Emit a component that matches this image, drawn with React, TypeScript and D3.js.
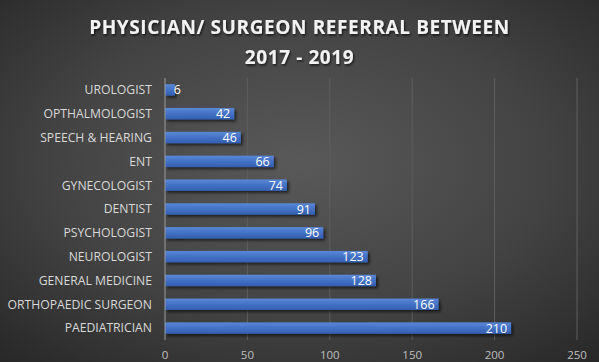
import * as d3 from "d3";
import React from "react";

const categories = [
  "UROLOGIST",
  "OPTHALMOLOGIST",
  "SPEECH & HEARING",
  "ENT",
  "GYNECOLOGIST",
  "DENTIST",
  "PSYCHOLOGIST",
  "NEUROLOGIST",
  "GENERAL MEDICINE",
  "ORTHOPAEDIC SURGEON",
  "PAEDIATRICIAN",
];
const referrals = [6, 42, 46, 66, 74, 91, 96, 123, 128, 166, 210];
const xTicks = [0, 50, 100, 150, 200, 250];
const titleLines = ["PHYSICIAN/ SURGEON REFERRAL BETWEEN", "2017 - 2019"];

export default function App() {
  const width = 599;
  const height = 362;
  const marginLeft = 165;
  const marginRight = 22;
  const marginTop = 78;
  const marginBottom = 22;

  const font = "Open Sans, sans-serif";

  const x = d3
    .scaleLinear()
    .domain([0, 250])
    .range([marginLeft, width - marginRight]);

  const y = d3
    .scaleBand()
    .domain(categories)
    .range([marginTop, height - marginBottom])
    .paddingInner(0.52)
    .paddingOuter(0.26);

  const data = categories.map((c, i) => ({ name: c, value: referrals[i] }));

  return (
    <svg
      width={width}
      height={height}
      style={{ position: "absolute", left: 0, top: 0, display: "block" }}
    >
      <defs>
        <radialGradient id="bg" cx="50%" cy="45%" r="75%">
          <stop offset="0%" stopColor="#595959" />
          <stop offset="55%" stopColor="#434343" />
          <stop offset="100%" stopColor="#272727" />
        </radialGradient>
        <linearGradient id="bar" x1="0" y1="0" x2="0" y2="1">
          <stop offset="0%" stopColor="#5a88d8" />
          <stop offset="45%" stopColor="#4573c6" />
          <stop offset="100%" stopColor="#335fb0" />
        </linearGradient>
        <filter id="shadow" x="-10%" y="-40%" width="130%" height="200%">
          <feDropShadow dx="2" dy="2" stdDeviation="1.5" floodColor="#000" floodOpacity="0.6" />
        </filter>
        <filter id="tshadow" x="-10%" y="-40%" width="120%" height="200%">
          <feDropShadow dx="1" dy="1.5" stdDeviation="1" floodColor="#000" floodOpacity="0.7" />
        </filter>
      </defs>

      <rect x={0} y={0} width={width} height={height} fill="url(#bg)" />

      {/* Title */}
      <g filter="url(#tshadow)">
        {titleLines.map((line, i) => (
          <text
            key={i}
            x={width / 2}
            y={34 + i * 30}
            textAnchor="middle"
            fill="#f2f2f2"
            fontFamily={font}
            fontWeight="bold"
            fontSize={19}
            letterSpacing={0.6}
          >
            {line}
          </text>
        ))}
      </g>

      {/* Gridlines */}
      {xTicks.slice(1).map((t) => (
        <line
          key={t}
          x1={x(t)}
          x2={x(t)}
          y1={marginTop}
          y2={height - marginBottom}
          stroke="#5e5e5e"
          strokeWidth={1}
        />
      ))}

      {/* Bars */}
      {data.map((d) => (
        <rect
          key={d.name}
          x={x(0)}
          y={y(d.name)}
          width={x(d.value) - x(0)}
          height={y.bandwidth()}
          fill="url(#bar)"
          filter="url(#shadow)"
        />
      ))}

      {/* Y axis line */}
      <line
        x1={x(0)}
        x2={x(0)}
        y1={marginTop}
        y2={height - marginBottom}
        stroke="#9a9a9a"
        strokeWidth={1}
      />

      {/* Value labels */}
      {data.map((d) => (
        <text
          key={d.name}
          x={Math.max(x(d.value) - 4, x(0) + 16)}
          y={(y(d.name) ?? 0) + y.bandwidth() / 2}
          dy="0.36em"
          textAnchor="end"
          fill="#ffffff"
          fontFamily={font}
          fontSize={12.5}
        >
          {d.value}
        </text>
      ))}

      {/* Category labels */}
      {data.map((d) => (
        <text
          key={d.name}
          x={152}
          y={(y(d.name) ?? 0) + y.bandwidth() / 2}
          dy="0.36em"
          textAnchor="end"
          fill="#d9d9d9"
          fontFamily={font}
          fontSize={12.2}
        >
          {d.name}
        </text>
      ))}

      {/* X tick labels */}
      {xTicks.map((t) => (
        <text
          key={t}
          x={x(t)}
          y={355}
          dy="0.36em"
          textAnchor="middle"
          fill="#bfbfbf"
          fontFamily={font}
          fontSize={11.5}
        >
          {t}
        </text>
      ))}
    </svg>
  );
}
